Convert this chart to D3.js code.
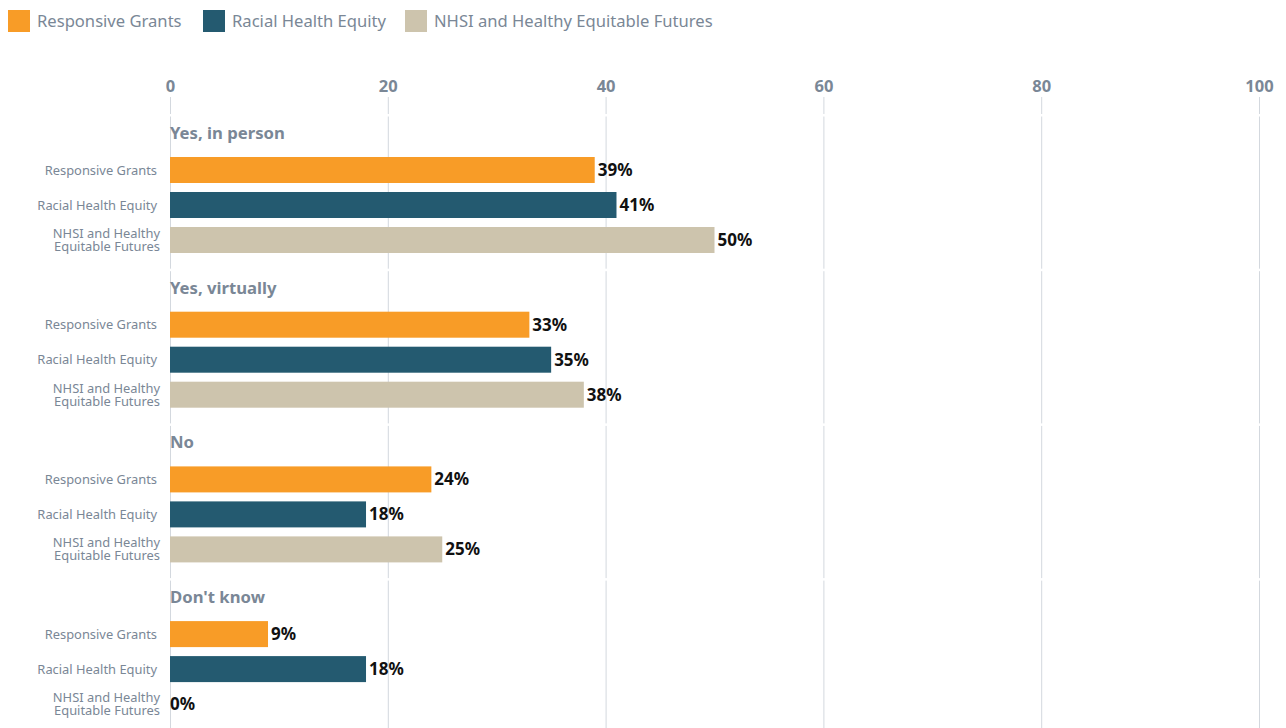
<!DOCTYPE html>
<html><head><meta charset="utf-8">
<script src="https://cdn.jsdelivr.net/npm/d3@7"></script>
<style>
body{margin:0;background:#fff;font-family:"Noto Sans",sans-serif;}
svg{display:block;}
</style></head>
<body><svg id="c" width="1286" height="728"></svg>
<script>
const groups = ["Yes, in person", "Yes, virtually", "No", "Don't know"];
const series = ["Responsive Grants", "Racial Health Equity", "NHSI and Healthy Equitable Futures"];
const seriesLabelLines = [["Responsive Grants"], ["Racial Health Equity"], ["NHSI and Healthy", "Equitable Futures"]];
const responsiveGrants = [39, 33, 24, 9];
const racialHealthEquity = [41, 35, 18, 18];
const nhsiFutures = [50, 38, 25, 0];
const xTicks = [0, 20, 40, 60, 80, 100];
const colors = ["#f89c27", "#245a70", "#cdc4ad"];

const valuesBySeries = [responsiveGrants, racialHealthEquity, nhsiFutures];
const gray = "#7a8796";
const gridCol = "#d3d8de";

const svg = d3.select("#c");
const x = d3.scaleLinear().domain([0, 100]).range([170, 1259]);
const yGroup = d3.scaleBand().domain(groups).range([115, 115 + 4 * 154.7]);
const yInner = d3.scaleBand().domain(series).range([37.5, 142.5]).paddingInner(9 / 35).paddingOuter(4.5 / 35);

// Legend
const legendX = [8, 203, 405];
const leg = svg.append("g");
series.forEach((s, i) => {
  leg.append("rect").attr("x", legendX[i]).attr("y", 10).attr("width", 22).attr("height", 22).attr("fill", colors[i]);
  leg.append("text").attr("x", legendX[i] + 29).attr("y", 21).attr("dy", "0.35em")
    .attr("font-size", 16.6).attr("fill", gray).text(s);
});

// Top axis
const axis = svg.append("g").attr("transform", "translate(0,96)")
  .call(d3.axisTop(x).tickValues(xTicks).tickSize(0).tickPadding(0));
axis.select(".domain").remove();
axis.selectAll("text").attr("font-size", 16.5).attr("font-weight", "bold").attr("fill", gray)
  .attr("font-family", "Noto Sans").attr("y", -4);
svg.append("g").selectAll("line").data(xTicks).join("line")
  .attr("x1", d => x(d) + 0.5).attr("x2", d => x(d) + 0.5)
  .attr("y1", 97).attr("y2", 114).attr("stroke", gridCol).attr("stroke-width", 1);

// Panels
groups.forEach((g, gi) => {
  const top = yGroup(g);
  const h = yGroup.bandwidth();
  const p = svg.append("g").attr("transform", `translate(0,${top})`);
  p.selectAll("line.grid").data(xTicks).join("line").attr("class", "grid")
    .attr("x1", d => x(d) + 0.5).attr("x2", d => x(d) + 0.5)
    .attr("y1", 1.5).attr("y2", h - 1).attr("stroke", gridCol);
  p.append("text").attr("x", x(0)).attr("y", 18).attr("dy", "0.35em")
    .attr("font-size", 16.7).attr("font-weight", "bold").attr("fill", gray).text(g);
  series.forEach((s, si) => {
    const v = valuesBySeries[si][gi];
    const by = yInner(s);
    const bh = yInner.bandwidth();
    p.append("rect").attr("x", x(0)).attr("y", by).attr("width", x(v) - x(0)).attr("height", bh).attr("fill", colors[si]);
    p.append("text").attr("x", x(v) + (v > 0 ? 3 : 0)).attr("y", by + bh / 2).attr("dy", "0.35em")
      .attr("font-size", 17).attr("font-weight", "bold").attr("fill", "#111").text(v + "%");
    const lines = seriesLabelLines[si];
    const t = p.append("text").attr("font-size", 12.9).attr("fill", gray).attr("text-anchor", "end");
    lines.forEach((ln, li) => {
      t.append("tspan").attr("x", lines.length > 1 ? 160 : 157)
        .attr("y", by + bh / 2 + (li - (lines.length - 1) / 2) * 13).attr("dy", "0.35em").text(ln);
    });
  });
});
</script></body></html>
